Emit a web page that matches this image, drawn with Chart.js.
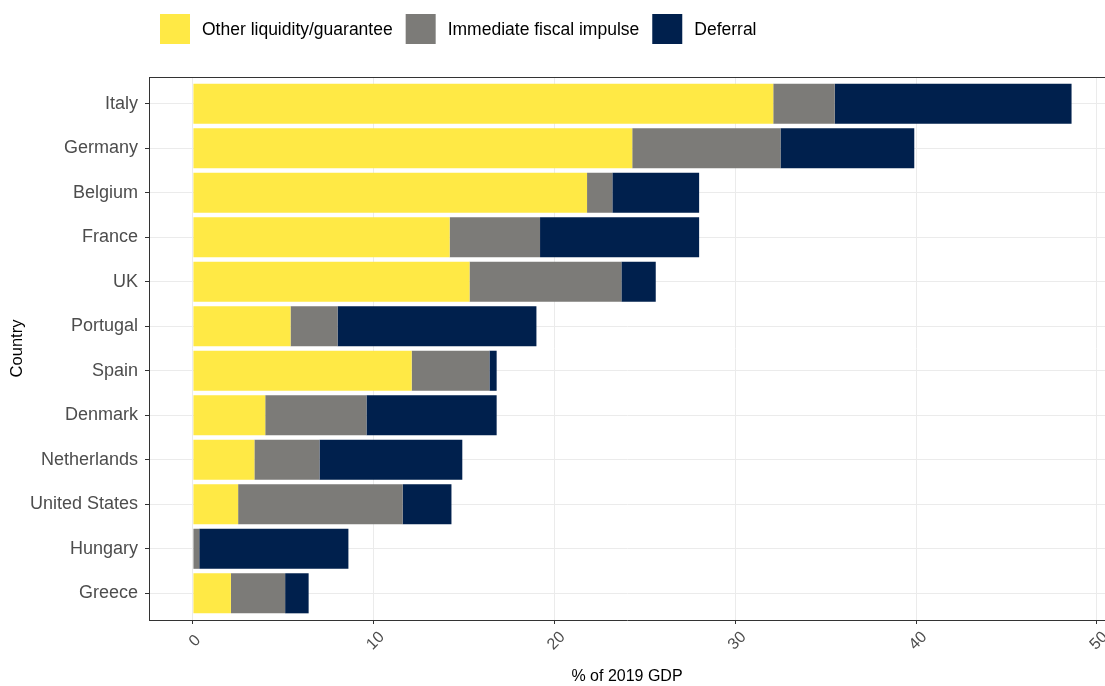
<!DOCTYPE html>
<html>
<head>
<meta charset="utf-8">
<script src="https://cdn.jsdelivr.net/npm/chart.js@4/dist/chart.umd.min.js"></script>
<style>
  html, body { margin: 0; padding: 0; background: #fff; overflow: hidden; }
  canvas { display: block; }
</style>
</head>
<body>
<canvas id="c" width="1105" height="686"></canvas>
<script>
const countries = ['Italy','Germany','Belgium','France','UK','Portugal','Spain','Denmark','Netherlands','United States','Hungary','Greece'];
const otherLiquidity = [32.1, 24.3, 21.8, 14.2, 15.3, 5.4, 12.1, 4.0, 3.4, 2.5, 0, 2.1];
const fiscalImpulse  = [3.4, 8.2, 1.4, 5.0, 8.4, 2.6, 4.3, 5.6, 3.6, 9.1, 0.35, 3.0];
const deferral       = [13.1, 7.4, 4.8, 8.8, 1.9, 11.0, 0.4, 7.2, 7.9, 2.7, 8.25, 1.3];
const seriesNames = ['Other liquidity/guarantee', 'Immediate fiscal impulse', 'Deferral'];
const xTickValues = [0, 10, 20, 30, 40, 50];

const COLORS = ['#FFE945', '#7C7B78', '#00204D'];
const FONT = '"Liberation Sans", Arial, sans-serif';

function toPoints(arr) { return arr.map((v, i) => ({ x: v, y: i })); }

const extras = {
  id: 'extras',
  afterDraw(chart) {
    const ctx = chart.ctx;
    const ca = chart.chartArea;
    const xs = chart.scales.x;
    ctx.save();
    // top panel border
    ctx.strokeStyle = '#333333';
    ctx.lineWidth = 1;
    ctx.beginPath();
    ctx.moveTo(ca.left, Math.round(ca.top) + 0.5);
    ctx.lineTo(ca.right, Math.round(ca.top) + 0.5);
    ctx.stroke();
    // x tick labels rotated 45 deg, centred on ticks
    ctx.fillStyle = '#4D4D4D';
    ctx.font = '16px ' + FONT;
    ctx.textAlign = 'center';
    ctx.textBaseline = 'middle';
    xTickValues.forEach(v => {
      const px = xs.getPixelForValue(v);
      ctx.save();
      ctx.translate(px + 2, ca.bottom + 21);
      ctx.rotate(-Math.PI / 4);
      ctx.fillText(String(v), 0, 0);
      ctx.restore();
    });
    // legend
    ctx.font = '17.5px ' + FONT;
    ctx.textAlign = 'left';
    ctx.textBaseline = 'middle';
    let x = 160;
    const boxTop = 14, box = 30;
    chart.data.datasets.forEach(ds => {
      ctx.fillStyle = ds.backgroundColor;
      ctx.fillRect(x, boxTop, box, box);
      ctx.fillStyle = '#000000';
      ctx.fillText(ds.label, x + box + 12, boxTop + box / 2 + 1);
      x += box + 12 + ctx.measureText(ds.label).width + 13;
    });
    ctx.restore();
  }
};

new Chart(document.getElementById('c'), {
  type: 'bar',
  data: {
    datasets: [
      { label: seriesNames[0], data: toPoints(otherLiquidity), backgroundColor: COLORS[0] },
      { label: seriesNames[1], data: toPoints(fiscalImpulse), backgroundColor: COLORS[1] },
      { label: seriesNames[2], data: toPoints(deferral), backgroundColor: COLORS[2] }
    ]
  },
  options: {
    indexAxis: 'y',
    responsive: false,
    animation: false,
    layout: { padding: { top: 77, left: 0, right: 0, bottom: 0 } },
    datasets: { bar: { barPercentage: 0.9, categoryPercentage: 1.0, borderWidth: 0 } },
    plugins: { legend: { display: false }, tooltip: { enabled: false } },
    scales: {
      x: {
        type: 'linear',
        stacked: true,
        offset: false,
        min: -2.43,
        max: 50.45,
        afterBuildTicks: s => { s.ticks = xTickValues.map(v => ({ value: v })); },
        ticks: { display: false },
        grid: { color: '#EBEBEB', tickColor: '#333333', tickLength: 4, drawTicks: true, lineWidth: 1, offset: false },
        border: { display: true, color: '#333333', width: 1 },
        title: { display: true, text: '% of 2019 GDP', color: '#000000', font: { family: FONT, size: 16 }, padding: { top: 0, bottom: 0 } },
        afterFit: s => { s.height = 66; }
      },
      y: {
        type: 'linear',
        stacked: true,
        reverse: true,
        offset: false,
        min: -0.6,
        max: 11.6,
        afterBuildTicks: s => { s.ticks = countries.map((c, i) => ({ value: i })); },
        ticks: { callback: v => countries[v], color: '#4D4D4D', font: { family: FONT, size: 18 }, padding: 7, autoSkip: false },
        grid: { color: '#EBEBEB', tickColor: '#333333', tickLength: 4, drawTicks: true, lineWidth: 1, offset: false },
        border: { display: true, color: '#333333', width: 1 },
        title: { display: true, text: 'Country', color: '#000000', font: { family: FONT, size: 16.5 }, padding: { top: 8, bottom: 0 } },
        afterFit: s => { s.width = 149; }
      }
    }
  },
  plugins: [extras]
});
</script>
</body>
</html>
